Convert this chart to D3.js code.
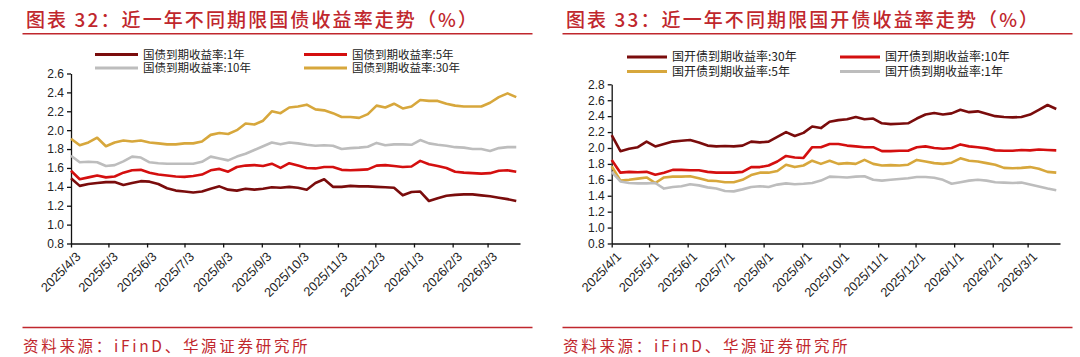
<!DOCTYPE html>
<html><head><meta charset="utf-8">
<script src="https://cdn.jsdelivr.net/npm/d3@7/dist/d3.min.js"></script>
<style>
body{margin:0;background:#fff;}
svg{display:block;}
.cn{font-family:"Noto Sans CJK SC","Noto Sans",sans-serif;}
.ax text{font-family:"Liberation Sans",Arial,sans-serif;font-size:12px;fill:#222;}
.xax text{font-size:12.8px;}
</style></head>
<body><svg id="c" width="1080" height="357"></svg>
<script>
// ---------- Data ----------
const leftDates = ["2025-04-03","2025-04-10","2025-04-17","2025-04-24","2025-05-01","2025-05-08","2025-05-15","2025-05-22","2025-05-29","2025-06-05","2025-06-12","2025-06-19","2025-06-26","2025-07-03","2025-07-10","2025-07-17","2025-07-24","2025-07-31","2025-08-07","2025-08-14","2025-08-21","2025-08-28","2025-09-04","2025-09-11","2025-09-18","2025-09-25","2025-10-02","2025-10-09","2025-10-16","2025-10-23","2025-10-30","2025-11-06","2025-11-13","2025-11-20","2025-11-27","2025-12-04","2025-12-11","2025-12-18","2025-12-25","2026-01-01","2026-01-08","2026-01-15","2026-01-22","2026-01-29","2026-02-05","2026-02-12","2026-02-19","2026-02-26","2026-03-05","2026-03-12","2026-03-19","2026-03-26"];
const gov1Y = [1.49,1.41,1.43,1.44,1.45,1.45,1.42,1.44,1.46,1.455,1.43,1.385,1.36,1.35,1.34,1.35,1.38,1.405,1.37,1.36,1.38,1.37,1.38,1.395,1.39,
  1.40,1.39,1.37,1.44,1.48,1.40,1.40,1.41,1.405,1.405,1.40,1.395,1.39,1.31,1.345,1.35,1.25,1.28,1.305,1.315,1.32,1.32,1.31,1.30,1.285,1.27,1.25];
const gov5Y = [1.57,1.48,1.50,1.52,1.50,1.51,1.55,1.575,1.58,1.55,1.53,1.52,1.51,1.505,1.515,1.53,1.575,1.59,1.56,1.61,1.625,1.63,1.62,1.645,1.60,
  1.65,1.625,1.60,1.595,1.61,1.61,1.58,1.575,1.58,1.585,1.625,1.63,1.62,1.61,1.615,1.675,1.64,1.62,1.60,1.56,1.55,1.545,1.54,1.545,1.57,1.575,1.56];
const gov10Y = [1.73,1.66,1.665,1.66,1.62,1.63,1.67,1.72,1.71,1.66,1.65,1.645,1.645,1.645,1.645,1.665,1.72,1.70,1.68,1.72,1.75,1.79,1.83,1.87,1.85,
  1.87,1.86,1.845,1.835,1.84,1.835,1.80,1.81,1.815,1.825,1.865,1.84,1.85,1.85,1.845,1.895,1.86,1.845,1.835,1.82,1.815,1.80,1.80,1.78,1.81,1.82,1.82];
const gov30Y = [1.91,1.84,1.87,1.92,1.83,1.87,1.89,1.88,1.89,1.87,1.86,1.85,1.85,1.86,1.86,1.88,1.95,1.97,1.96,2.00,2.07,2.06,2.10,2.20,2.18,
  2.24,2.25,2.27,2.22,2.21,2.18,2.14,2.14,2.13,2.17,2.26,2.24,2.28,2.23,2.25,2.32,2.31,2.31,2.28,2.26,2.25,2.25,2.25,2.29,2.35,2.39,2.35];

const rightDates = ["2025-04-01","2025-04-08","2025-04-15","2025-04-22","2025-04-29","2025-05-06","2025-05-13","2025-05-20","2025-05-27","2025-06-03","2025-06-10","2025-06-17","2025-06-24","2025-07-01","2025-07-08","2025-07-15","2025-07-22","2025-07-29","2025-08-05","2025-08-12","2025-08-19","2025-08-26","2025-09-02","2025-09-09","2025-09-16","2025-09-23","2025-09-30","2025-10-07","2025-10-14","2025-10-21","2025-10-28","2025-11-04","2025-11-11","2025-11-18","2025-11-25","2025-12-02","2025-12-09","2025-12-16","2025-12-23","2025-12-30","2026-01-06","2026-01-13","2026-01-20","2026-01-27","2026-02-03","2026-02-10","2026-02-17","2026-02-24","2026-03-03","2026-03-10","2026-03-17","2026-03-24"];
const cdb30Y = [2.16,1.96,1.99,2.01,2.08,2.02,2.05,2.08,2.09,2.10,2.07,2.03,2.02,2.025,2.02,2.03,2.08,2.07,2.08,2.14,2.20,2.15,2.19,2.27,2.25,
  2.33,2.35,2.36,2.39,2.36,2.37,2.31,2.30,2.305,2.31,2.37,2.42,2.44,2.42,2.435,2.48,2.45,2.46,2.43,2.40,2.39,2.385,2.39,2.42,2.48,2.54,2.49];
const cdb10Y = [1.85,1.69,1.70,1.695,1.70,1.665,1.69,1.725,1.725,1.72,1.72,1.70,1.69,1.69,1.69,1.70,1.76,1.76,1.78,1.83,1.90,1.88,1.875,2.01,2.01,
  2.05,2.05,2.03,2.02,2.01,2.01,1.96,1.96,1.965,1.965,2.01,2.02,2.00,1.99,2.00,2.045,2.02,2.01,1.995,1.97,1.965,1.965,1.975,1.97,1.98,1.975,1.97];
const cdb5Y = [1.77,1.59,1.60,1.615,1.63,1.56,1.63,1.64,1.64,1.645,1.62,1.59,1.585,1.57,1.57,1.60,1.66,1.69,1.69,1.71,1.79,1.76,1.78,1.84,1.80,
  1.84,1.80,1.81,1.80,1.85,1.80,1.78,1.785,1.78,1.79,1.85,1.83,1.81,1.80,1.815,1.87,1.84,1.83,1.81,1.79,1.75,1.745,1.75,1.76,1.74,1.70,1.69];
const cdb1Y = [1.70,1.58,1.56,1.555,1.555,1.56,1.49,1.51,1.52,1.545,1.53,1.505,1.49,1.46,1.455,1.48,1.51,1.52,1.51,1.54,1.555,1.545,1.55,1.56,1.59,
  1.64,1.635,1.63,1.64,1.645,1.60,1.59,1.60,1.61,1.62,1.635,1.635,1.625,1.60,1.55,1.57,1.59,1.60,1.59,1.57,1.565,1.56,1.565,1.54,1.515,1.49,1.47];

const leftTicks = ["2025/4/3","2025/5/3","2025/6/3","2025/7/3","2025/8/3","2025/9/3","2025/10/3","2025/11/3","2025/12/3","2026/1/3","2026/2/3","2026/3/3"];
const rightTicks = ["2025/4/1","2025/5/1","2025/6/1","2025/7/1","2025/8/1","2025/9/1","2025/10/1","2025/11/1","2025/12/1","2026/1/1","2026/2/1","2026/3/1"];
const leftYTicks = [0.8,1.0,1.2,1.4,1.6,1.8,2.0,2.2,2.4,2.6];
const rightYTicks = [0.8,1.0,1.2,1.4,1.6,1.8,2.0,2.2,2.4,2.6,2.8];

const leftNames = ["国债到期收益率:1年","国债到期收益率:5年","国债到期收益率:10年","国债到期收益率:30年"];
const rightNames = ["国开债到期收益率:30年","国开债到期收益率:10年","国开债到期收益率:5年","国开债到期收益率:1年"];
const leftTitle = "图表 32：近一年不同期限国债收益率走势（%）";
const rightTitle = "图表 33：近一年不同期限国开债收益率走势（%）";
const sourceText = "资料来源：iFinD、华源证券研究所";

// ---------- Drawing ----------
const svg = d3.select("#c");
const red = "#c0272d";
const COLORS = {dark:"#7a0c0c", red:"#d40f0f", gray:"#bdbdbd", gold:"#d7a73c"};
const parse = d3.timeParse("%Y-%m-%d");
const parseTick = d3.timeParse("%Y/%m/%d");

function panel(ox, o) {
  const g = svg.append("g").attr("transform", `translate(${ox},0)`);
  // title
  g.append("text").attr("class","cn").attr("x",26).attr("y",26.5)
    .attr("font-size",19).attr("font-weight",500).attr("letter-spacing","2.1px").attr("fill",red).text(o.title);
  g.append("line").attr("x1",22.5).attr("x2",532.5).attr("y1",33.7).attr("y2",33.7)
    .attr("stroke",red).attr("stroke-width",1.6);
  // footer
  g.append("line").attr("x1",22.5).attr("x2",532.5).attr("y1",327.5).attr("y2",327.5)
    .attr("stroke",red).attr("stroke-width",1.6);
  g.append("text").attr("class","cn").attr("x",23).attr("y",352)
    .attr("font-size",15.5).attr("letter-spacing","2.7px").attr("fill",red).text(sourceText);

  const x = d3.scaleTime().domain(o.xDomain.map(parse)).range([o.x0, 520]);
  const y = d3.scaleLinear().domain([0.8, o.yMax]).range([243.5, o.yTop]);

  const xa = g.append("g").attr("class","ax xax").attr("transform","translate(0,243.5)")
    .call(d3.axisBottom(x).tickValues(o.xTicks.map(parseTick)).tickFormat(d3.timeFormat("%Y/%-m/%-d")).tickSize(4).tickSizeOuter(0));
  xa.selectAll("text").attr("text-anchor","end").attr("dy",0)
    .attr("transform","translate(5,9) rotate(-45)");
  g.append("g").attr("class","ax").attr("transform",`translate(${o.x0},0)`)
    .call(d3.axisLeft(y).tickValues(o.yTicks).tickFormat(d3.format(".1f")).tickSize(4).tickSizeOuter(0));
  g.selectAll(".ax path,.ax line").attr("stroke","#111").attr("stroke-width",1.3);

  const line = d3.line().x((d,i)=>x(parse(o.dates[i]))).y(d=>y(d)).curve(d3.curveLinear);
  o.series.forEach(s=>{
    g.append("path").datum(s.values).attr("d",line).attr("fill","none")
      .attr("stroke",s.color).attr("stroke-width",2.6).attr("stroke-linejoin","round");
  });
  // legend
  o.series.forEach((s,i)=>{
    const cx = o.legX[i%2], cy = o.legY[Math.floor(i/2)];
    g.append("line").attr("x1",cx).attr("x2",cx+o.legLen).attr("y1",cy).attr("y2",cy)
      .attr("stroke",s.color).attr("stroke-width",3);
    g.append("text").attr("class","cn").attr("x",cx+o.legLen+5).attr("y",cy+4)
      .attr("font-size",o.legFont).attr("fill","#222").text(s.name);
  });
}

panel(0, {
  title:leftTitle, x0:71, yMax:2.6, yTop:73.5, yTicks:leftYTicks,
  xDomain:["2025-04-03","2026-03-29"], xTicks:leftTicks, dates:leftDates,
  legX:[95,304], legY:[54.5,68], legLen:43, legFont:11.5,
  series:[
    {name:leftNames[0], values:gov1Y, color:COLORS.dark},
    {name:leftNames[1], values:gov5Y, color:COLORS.red},
    {name:leftNames[2], values:gov10Y, color:COLORS.gray},
    {name:leftNames[3], values:gov30Y, color:COLORS.gold}
  ]
});
panel(540, {
  title:rightTitle, x0:71.7, yMax:2.8, yTop:84.3, yTicks:rightYTicks,
  xDomain:["2025-04-01","2026-03-27"], xTicks:rightTicks, dates:rightDates,
  legX:[87,300], legY:[57,71.5], legLen:40, legFont:12,
  series:[
    {name:rightNames[0], values:cdb30Y, color:COLORS.dark},
    {name:rightNames[1], values:cdb10Y, color:COLORS.red},
    {name:rightNames[2], values:cdb5Y, color:COLORS.gold},
    {name:rightNames[3], values:cdb1Y, color:COLORS.gray}
  ]
});
</script></body></html>
